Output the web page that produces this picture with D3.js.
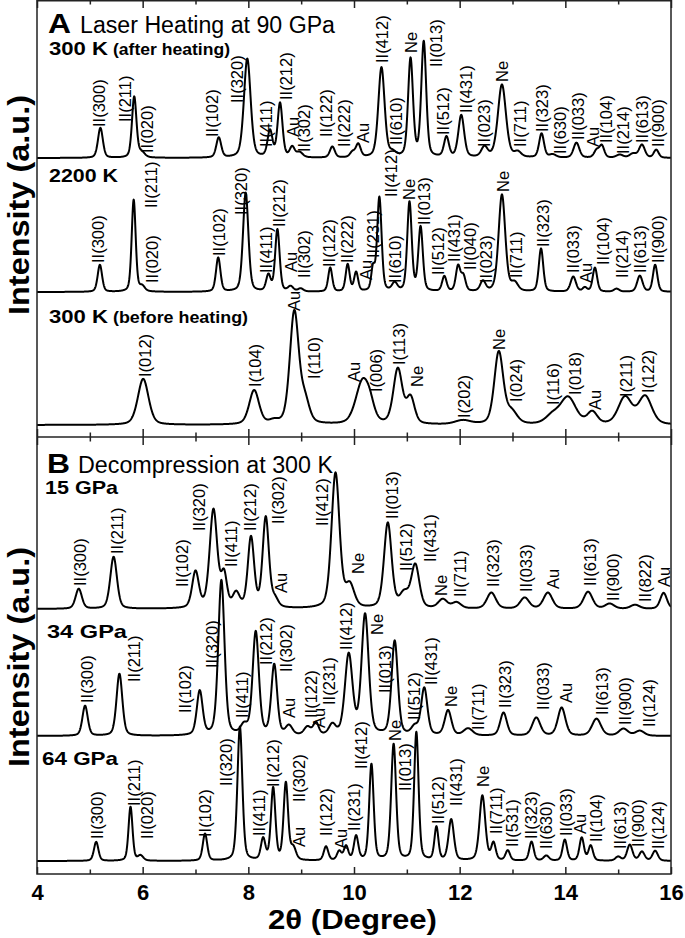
<!DOCTYPE html>
<html><head><meta charset="utf-8">
<script src="https://cdn.jsdelivr.net/npm/d3@7"></script>
<style>
html,body{margin:0;padding:0;background:#fff;}
svg{display:block;font-family:"Liberation Sans",Arial,Helvetica,sans-serif;}
</style></head>
<body><svg id="c" width="685" height="938"></svg>
<script>
// ---------------- DATA ----------------
// peaks: [2θ (deg), intensity (a.u.), FWHM (deg)]
const peaksAfterHeating = [[5.20,30,.11],[5.84,61,.1],[5.98,5,.14],[7.44,20,.11],[7.98,99,.15],[8.41,26,.11],[8.60,54,.11],[8.83,10,.11],[8.97,5,.14],[9.59,11,.11],[9.97,5,.11],[10.08,13,.11],[10.52,90,.14],[10.73,4,.14],[11.07,98,.11],[11.32,115,.11],[11.75,20,.11],[12.03,42,.13],[12.47,10,.14],[12.80,73,.18],[13.10,5,.15],[13.55,24,.11],[13.76,3,.15],[14.21,15,.13],[14.59,7,.11],[14.69,12,.11],[15.03,3,.15],[15.28,4,.15],[15.45,13,.13],[15.72,8,.11]];
const labelsAfterHeating = [["II(300)",5.17,31],["II(211)",5.67,36],["II(020)",6.08,5],["II(102)",7.31,21],["II(320)",7.79,55],["II(411)",8.33,11],["II(212)",8.71,58],["Au",8.84,21],["II(302)",9.06,6],["II(122)",9.47,21],["II(222)",9.82,11],["Au",10.18,15],["II(412)",10.53,95],["II(610)",10.80,13],["Ne",11.08,105],["II(013)",11.56,91],["II(512)",11.68,23],["II(431)",12.13,45],["II(023)",12.47,11],["Ne",12.81,76],["II(711)",13.14,11],["II(323)",13.55,26],["II(630)",13.90,4],["II(033)",14.24,18],["Au",14.52,11],["II(104)",14.78,15],["II(214)",15.09,4],["II(613)",15.45,15],["II(900)",15.76,11]];

const peaks2200K = [[5.19,27,.1],[5.83,92,.09],[5.99,5,.12],[7.43,34,.1],[7.95,99,.12],[8.38,16,.1],[8.55,62,.1],[8.80,5,.12],[8.99,3,.12],[9.55,24,.09],[9.88,27,.09],[10.04,19,.09],[10.36,22,.08],[10.48,94,.1],[10.77,8,.12],[11.05,89,.1],[11.26,64,.1],[11.71,15,.1],[11.97,25,.1],[12.07,15,.1],[12.44,10,.12],[12.80,97,.15],[13.04,8,.15],[13.54,43,.1],[14.15,15,.12],[14.37,4,.1],[14.56,24,.1],[14.97,3,.12],[15.41,16,.12],[15.70,27,.1]];
const labels2200K = [["II(300)",5.15,29],["II(211)",6.15,84],["II(020)",6.18,9],["II(102)",7.45,36],["II(320)",7.87,77],["II(411)",8.33,19],["II(212)",8.58,65],["Au",8.80,20],["II(302)",9.06,14],["II(122)",9.53,25],["II(222)",9.86,29],["Au",10.22,12],["II(231)",10.36,34],["II(412)",10.70,95],["II(610)",10.78,9],["Ne",11.05,92],["II(013)",11.33,67],["II(512)",11.59,17],["II(431)",11.90,30],["II(040)",12.19,22],["II(023)",12.50,9],["Ne",12.82,100],["II(711)",13.06,14],["II(323)",13.58,45],["II(033)",14.15,19],["Au",14.40,9],["II(104)",14.72,27],["II(214)",15.07,14],["II(613)",15.41,19],["II(900)",15.76,29]];

const peaksBeforeHeating = [[6.01,46,.24],[8.11,34,.22],[8.48,3,.2],[8.87,112,.2],[9.07,22,.2],[10.16,42,.3],[10.30,12,.2],[10.83,55,.2],[11.07,26,.18],[12.06,4,.35],[12.74,72,.2],[12.98,12,.25],[13.75,8,.3],[14.05,27,.35],[14.51,12,.22],[15.13,27,.3],[15.51,28,.3]];
const labelsBeforeHeating = [["I(012)",6.05,48],["I(104)",8.13,38],["Au",8.87,114],["I(110)",9.25,46],["Au",10.00,43],["I(006)",10.42,33],["I(113)",10.86,60],["Ne",11.19,38],["I(202)",12.09,7],["Ne",12.74,75],["I(024)",13.07,23],["I(116)",13.77,20],["I(018)",14.18,30],["Au",14.56,15],["I(211)",15.15,28],["I(122)",15.57,32]];

const peaks15GPa = [[4.79,20,.14],[5.45,52,.15],[7.00,36,.15],[7.34,98,.17],[7.54,32,.13],[7.77,14,.15],[8.05,70,.14],[8.33,90,.14],[8.50,8,.15],[9.65,135,.18],[9.92,22,.2],[10.64,85,.17],[10.95,14,.2],[11.16,43,.18],[11.68,9,.2],[11.94,6,.2],[12.60,16,.2],[13.23,11,.2],[13.67,16,.2],[14.43,17,.2],[14.84,5,.2],[15.32,4,.2],[15.86,16,.15]];
const labels15GPa = [["II(300)",4.82,23],["II(211)",5.51,55],["II(102)",6.74,22],["II(320)",7.06,78],["II(411)",7.67,42],["II(212)",8.03,78],["II(302)",8.57,85],["Au",8.61,16],["II(412)",9.40,83],["Ne",10.07,35],["II(013)",10.72,90],["II(512)",10.99,38],["II(431)",11.43,47],["Ne",11.65,13],["II(711)",12.00,12],["II(323)",12.64,22],["II(033)",13.26,17],["Au",13.77,20],["II(613)",14.46,23],["II(900)",14.91,8],["II(822)",15.51,7],["Au",15.86,22]];

const peaks34GPa = [[4.91,30,.12],[5.56,62,.13],[7.08,44,.13],[7.49,155,.14],[7.92,9,.15],[8.14,103,.14],[8.49,70,.13],[8.77,9,.15],[9.12,8,.15],[9.28,12,.12],[9.59,10,.15],[9.90,80,.17],[10.21,120,.16],[10.77,94,.14],[11.15,8,.15],[11.33,47,.14],[11.78,25,.15],[12.16,7,.2],[12.83,23,.15],[13.45,18,.18],[13.93,28,.17],[14.59,17,.2],[15.10,7,.2],[15.41,5,.2]];
const labels34GPa = [["II(300)",4.95,33],["II(211)",5.83,54],["II(102)",6.81,23],["II(320)",7.32,68],["II(411)",7.89,18],["II(212)",8.33,71],["II(302)",8.71,64],["Au",8.77,18],["II(122)",9.18,18],["Au",9.34,8],["II(231)",9.53,31],["II(412)",9.85,86],["Ne",10.43,101],["II(013)",10.58,43],["II(512)",11.14,16],["II(431)",11.46,51],["Ne",11.83,29],["II(711)",12.35,6],["II(323)",12.85,28],["II(033)",13.58,26],["Au",14.02,33],["II(613)",14.70,21],["II(900)",15.13,11],["II(124)",15.59,9]];

const peaks64GPa = [[5.12,19,.1],[5.77,54,.09],[5.96,5,.12],[7.18,27,.1],[7.84,134,.11],[8.28,21,.1],[8.47,72,.1],[8.71,77,.1],[8.85,12,.12],[9.47,14,.1],[9.72,9,.1],[9.85,14,.1],[10.04,24,.1],[10.33,96,.1],[10.75,116,.11],[11.18,128,.1],[11.56,33,.09],[11.84,41,.12],[12.43,65,.13],[12.64,17,.1],[12.91,10,.1],[13.36,19,.1],[13.64,5,.12],[13.99,21,.1],[14.31,23,.1],[14.48,15,.1],[15.00,4,.12],[15.22,16,.12],[15.45,9,.12],[15.70,10,.12]];
const labels64GPa = [["II(300)",5.13,22],["II(211)",5.83,55],["II(020)",6.08,22],["II(102)",7.19,24],["II(320)",7.57,75],["II(411)",8.20,25],["II(212)",8.47,74],["II(302)",8.96,59],["Au",8.96,14],["II(122)",9.47,25],["Au",9.75,12],["II(231)",10.01,30],["II(412)",10.13,92],["Ne",10.77,120],["II(013)",10.96,70],["II(512)",11.59,37],["II(431)",11.94,55],["Ne",12.44,74],["II(711)",12.69,27],["II(531)",13.00,14],["II(323)",13.36,22],["II(630)",13.64,12],["II(033)",14.01,25],["Au",14.28,27],["II(104)",14.59,19],["II(613)",15.03,12],["II(900)",15.38,14],["II(124)",15.76,12]];

const patternNames = [["300 K","(after heating)"],["2200 K",""],["300 K","(before heating)"],["15 GPa",""],["34 GPa",""],["64 GPa",""]];
const panelTitles = [["A","Laser Heating at 90 GPa"],["B","Decompression at 300 K"]];
const majorTicks = [4,6,8,10,12,14,16];
const minorTicks = [5,7,9,11,13,15];
const xTitle = "2θ (Degree)";
const yTitle = "Intensity (a.u.)";

// ---------------- LAYOUT ----------------
const patterns = [
  {peaks:peaksAfterHeating, labels:labelsAfterHeating},
  {peaks:peaks2200K, labels:labels2200K},
  {peaks:peaksBeforeHeating, labels:labelsBeforeHeating},
  {peaks:peaks15GPa, labels:labels15GPa},
  {peaks:peaks34GPa, labels:labels34GPa},
  {peaks:peaks64GPa, labels:labels64GPa}
];
const baselines = [158, 292, 425, 609, 736, 861];
const nameY = [55, 182, 323, 494, 638, 765];
const nameX = [49, 49, 49, 45, 47, 42];
const nameLen = [[59,117],[69,0],[59,135],[73,0],[80,0],[76,0]];
const L = 37, R = 671, T = 0, B = 874, SEP = 437;

const svg = d3.select("#c");
const x = d3.scaleLinear().domain([4,16]).range([L,R]);

svg.append("defs").append("clipPath").attr("id","clip")
  .append("rect").attr("x",L).attr("y",T).attr("width",R-L).attr("height",B-T);

const eta = 0.35;
function profile(t, peaks){
  let s = 0;
  for (const [c,h,w] of peaks){
    const u = (t-c)/w;
    const u2 = 4*u*u;
    s += h*(eta/(1+u2) + (1-eta)*Math.exp(-Math.LN2*u2));
  }
  return s;
}
const grid = d3.range(4, 16.0001, 0.005);

const plot = svg.append("g").attr("clip-path","url(#clip)");
patterns.forEach((p,i)=>{
  const y = d3.scaleLinear().domain([0,100]).range([baselines[i], baselines[i]-100]);
  const pts = grid.map(t=>[t, profile(t,p.peaks)]);
  const line = d3.line().x(d=>x(d[0])).y(d=>y(d[1]));
  plot.append("path").attr("d", line(pts)).attr("fill","none")
    .attr("stroke","#000").attr("stroke-width",2).attr("stroke-linejoin","round");
  const lg = svg.append("g").attr("font-size",16.5).attr("fill","#000");
  p.labels.forEach(([txt,pos,lev])=>{
    lg.append("text").attr("transform",`translate(${x(pos)},${y(lev)}) rotate(-90)`)
      .attr("dy","0.36em").text(txt);
  });
  svg.append("text").attr("x",nameX[i]).attr("y",nameY[i])
    .attr("font-weight","bold").attr("font-size",19)
    .attr("textLength",nameLen[i][0]).attr("lengthAdjust","spacingAndGlyphs")
    .text(patternNames[i][0]);
  if (patternNames[i][1]) {
    svg.append("text").attr("x",nameX[i]+64).attr("y",nameY[i])
      .attr("font-weight","bold").attr("font-size",17)
      .attr("textLength",nameLen[i][1]).attr("lengthAdjust","spacingAndGlyphs")
      .text(patternNames[i][1]);
  }
});

// panel titles
[[33,48,80],[473,47,78]].forEach(([yy,xa,xb],k)=>{
  svg.append("text").attr("x",xa).attr("y",yy).attr("font-weight","bold").attr("font-size",28)
    .attr("textLength",23).attr("lengthAdjust","spacingAndGlyphs").text(panelTitles[k][0]);
  svg.append("text").attr("x",xb).attr("y",yy).attr("font-size",23)
    .attr("textLength",255).attr("lengthAdjust","spacingAndGlyphs").text(panelTitles[k][1]);
});

// frame
const frame = svg.append("g").attr("stroke","#222").attr("stroke-width",1.5).attr("fill","none");
frame.append("rect").attr("x",L).attr("y",T+0.75).attr("width",R-L).attr("height",B-T-0.75);
frame.append("line").attr("x1",L).attr("x2",R).attr("y1",SEP).attr("y2",SEP);

// axes
function tickAxis(gen, y, size, vals){
  const g = svg.append("g").attr("transform",`translate(0,${y})`)
    .call(gen(x).tickValues(vals).tickSize(size).tickFormat(""));
  g.select(".domain").remove();
  g.selectAll("line").attr("stroke","#222").attr("stroke-width",1.5);
  return g;
}
tickAxis(d3.axisBottom, T, 8, majorTicks);
tickAxis(d3.axisBottom, T, 4.5, minorTicks);
tickAxis(d3.axisTop, SEP, 8, majorTicks);
tickAxis(d3.axisBottom, SEP, 8, majorTicks);
tickAxis(d3.axisTop, SEP, 4.5, minorTicks);
tickAxis(d3.axisBottom, SEP, 4.5, minorTicks);
tickAxis(d3.axisBottom, B, -4.5, minorTicks);
const bx = svg.append("g").attr("transform",`translate(0,${B})`)
  .call(d3.axisBottom(x).tickValues(majorTicks).tickSize(-7).tickPadding(10).tickFormat(d3.format("d")));
bx.select(".domain").remove();
bx.selectAll("line").attr("stroke","#222").attr("stroke-width",1.5);
bx.selectAll("text").attr("font-size",22).attr("font-weight","bold").attr("fill","#000")
  .attr("font-family","'Liberation Sans',Arial,sans-serif");

// axis titles
svg.append("text").attr("x",268).attr("y",929).attr("font-size",27).attr("font-weight","bold")
  .attr("textLength",169).attr("lengthAdjust","spacingAndGlyphs").text(xTitle);
[205,657].forEach(cy=>{
  svg.append("text").attr("transform",`translate(29,${cy}) rotate(-90)`)
    .attr("text-anchor","middle").attr("font-size",29).attr("font-weight","bold")
    .attr("textLength",220).attr("lengthAdjust","spacingAndGlyphs").text(yTitle);
});
</script></body></html>
